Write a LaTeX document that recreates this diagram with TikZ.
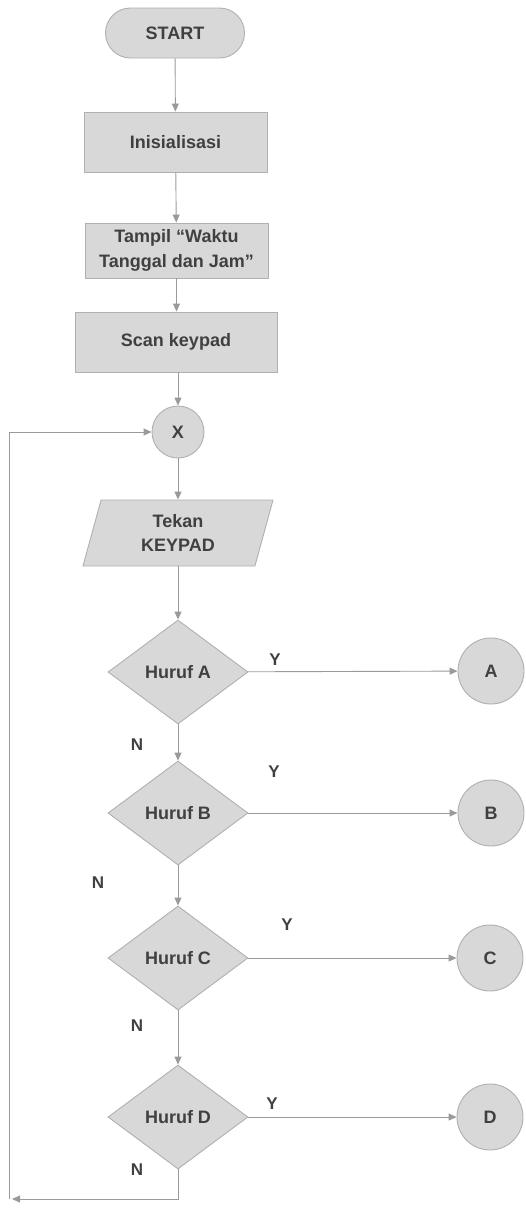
\documentclass[tikz,border=0pt]{standalone}
\usepackage{fontspec}
\setmainfont{Liberation Sans}
\usetikzlibrary{shapes.geometric,shapes.misc,arrows.meta}
\definecolor{boxfill}{HTML}{D8D8D8}
\definecolor{boxline}{HTML}{B0B0B0}
\definecolor{conn}{HTML}{9A9A9A}
\definecolor{ink}{HTML}{404040}
\tikzset{
  base/.style={draw=boxline, fill=boxfill, line width=0.9pt, text=ink,
    font=\fontsize{18}{25}\selectfont\bfseries, align=center, inner sep=0pt},
  terminal/.style={base, rounded rectangle, minimum width=139pt, minimum height=50pt},
  procbox/.style={base, rectangle},
  iobox/.style={base, trapezium, trapezium left angle=64, trapezium right angle=116,
    minimum height=66pt, minimum width=190pt, trapezium stretches body},
  decision/.style={base, diamond, minimum width=140pt, minimum height=104pt},
  connector/.style={base, circle, minimum size=52pt},
  offpage/.style={base, circle, minimum size=66pt},
  flow/.style={draw=conn, line width=0.9pt, -{Triangle[length=8pt,width=7pt]}},
  answer/.style={text=ink, font=\fontsize{17}{20}\selectfont\bfseries, inner sep=0pt}
}
\begin{document}
\begin{tikzpicture}[x=1pt,y=-1pt]
\useasboundingbox (0,0) rectangle (526,1213);

% main column
\node[terminal] (start) at (175,33) {START};
\node[procbox, minimum width=183pt, minimum height=60pt] (init) at (175.5,142) {Inisialisasi};
\node[procbox, minimum width=183pt, minimum height=55pt] (show) at (176.5,250.5) {Tampil “Waktu\\Tanggal dan Jam”};
\node[procbox, minimum width=202pt, minimum height=60pt] (scan) at (176,342) {Scan keypad};
\node[connector] (x) at (178,432) {X};
\node[iobox, font=\fontsize{18}{24}\selectfont\bfseries] (press) at (178,533) {Tekan\\KEYPAD};

% decisions
\node[decision] (da) at (178,672) {Huruf A};
\node[decision] (db) at (178,813) {Huruf B};
\node[decision] (dc) at (178,958) {Huruf C};
\node[decision] (dd) at (178,1117) {Huruf D};

% off-page connectors
\node[offpage] (ca) at (491,671) {A};
\node[offpage] (cb) at (491,813) {B};
\node[offpage] (cc) at (490,958) {C};
\node[offpage] (cd) at (490,1117) {D};

% branch labels
\node[answer] (ya) at (275,660) {Y};
\node[answer] (na) at (137,745) {N};
\node[answer] (yb) at (274,772) {Y};
\node[answer] (nb) at (98,883) {N};
\node[answer] (yc) at (287,925) {Y};
\node[answer] (nc) at (137,1026) {N};
\node[answer] (yd) at (272,1104) {Y};
\node[answer] (nd) at (137,1170) {N};

% return path
\coordinate (loopb) at (9,1199);
\coordinate (loopt) at (9,432);

% connectors
\draw[flow] (start) -- (init);
\draw[flow] (init) -- (show);
\draw[flow] (show) -- (show.south |- scan.north);
\draw[flow] (scan.south -| x) -- (x);
\draw[flow] (x) -- (press);
\draw[flow] (press.south -| da) -- (da);
\draw[flow] (da) -- (db);
\draw[flow] (db) -- (dc);
\draw[flow] (dc) -- (dd);
\draw[flow] (da) -- (ca);
\draw[flow] (db) -- (cb);
\draw[flow] (dc) -- (cc);
\draw[flow] (dd) -- (cd);
\draw[flow] (dd.south) |- ([xshift=3pt]loopb);
\draw[flow] (loopb) -- (loopt) -- (x);
\end{tikzpicture}
\end{document}
